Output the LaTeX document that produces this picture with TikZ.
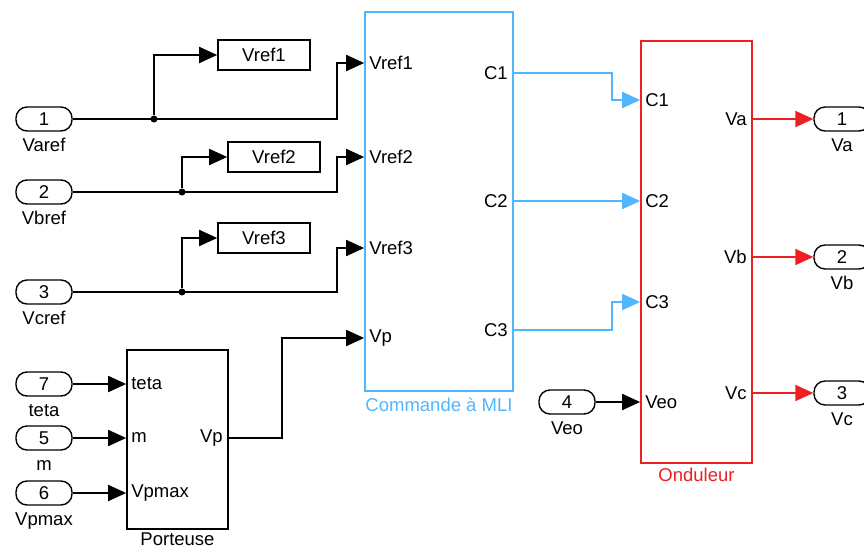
\documentclass[tikz,border=0pt]{standalone}
\usepackage{fontspec}
\setmainfont{Liberation Sans}
\usetikzlibrary{positioning,arrows.meta}
\definecolor{mliblue}{RGB}{80,182,255}
\definecolor{ondred}{RGB}{238,30,34}

\begin{document}
\begin{tikzpicture}[x=1pt, y=-1pt,
  font=\fontsize{18.5}{21}\selectfont,
  label distance=4pt,
  every label/.style={text height=12.5pt, text depth=3pt},
  port/.style={draw, line width=1.4pt, rounded corners=11pt, minimum width=56pt,
               minimum height=24pt, inner sep=0pt},
  gto/.style={draw, line width=1.6pt, minimum width=92pt, minimum height=30pt, inner sep=0pt},
  blk/.style={draw, line width=1.7pt, inner sep=0pt},
  inl/.style={anchor=west, inner sep=0pt, xshift=5pt},
  outl/.style={anchor=east, inner sep=0pt, xshift=-6pt},
  arr/.style={-{Triangle[length=18pt,width=16pt]}, line width=1.9pt},
  dot/.style={circle, fill, inner sep=0pt, minimum size=7pt}]

\useasboundingbox[fill=white] (0,0) rectangle (864,552);

% inports
\node[port, label=below:Varef] (in1) at (44,119) {1};
\node[port, label=below:Vbref] (in2) at (44,192) {2};
\node[port, label=below:Vcref] (in3) at (44,292) {3};
\node[port, label=below:teta] (in7) at (44,384) {7};
\node[port, label=below:m] (in5) at (44,438) {5};
\node[port, label=below:Vpmax] (in6) at (44,493) {6};
\node[port, label=below:Veo] (in4) at (567,402) {4};

% goto tags
\node[gto] (gto1) at (264,55) {Vref1};
\node[gto] (gto2) at (274,157) {Vref2};
\node[gto] (gto3) at (264,238) {Vref3};

% branch points
\node[dot] (j1) at (154,119) {};
\node[dot] (j2) at (182,192) {};
\node[dot] (j3) at (182,292) {};

% Porteuse block
\node[blk, minimum width=101pt, minimum height=179pt,
      label={[label distance=0pt, inner sep=3pt]below:Porteuse}] (por) at (177.5,439.5) {};
\coordinate (por-i1) at (por.west |- 0,384);
\coordinate (por-i2) at (por.west |- 0,438);
\coordinate (por-i3) at (por.west |- 0,493);
\coordinate (por-o1) at (por.east |- 0,438);
\node[inl] (por-l1) at (por-i1) {teta};
\node[inl] (por-l2) at (por-i2) {m};
\node[inl] (por-l3) at (por-i3) {Vpmax};
\node[outl] (por-l4) at (por-o1) {Vp};

% Commande a MLI block
\node[blk, draw=mliblue, minimum width=148pt, minimum height=379pt,
      label={[mliblue]below:Commande à MLI}] (mli) at (439,201.5) {};
\coordinate (mli-i1) at (mli.west |- 0,63);
\coordinate (mli-i2) at (mli.west |- 0,157);
\coordinate (mli-i3) at (mli.west |- 0,248);
\coordinate (mli-i4) at (mli.west |- 0,338);
\coordinate (mli-o1) at (mli.east |- 0,73);
\coordinate (mli-o2) at (mli.east |- 0,201);
\coordinate (mli-o3) at (mli.east |- 0,330);
\node[inl] (mli-l1) at (mli-i1) {Vref1};
\node[inl] (mli-l2) at (mli-i2) {Vref2};
\node[inl] (mli-l3) at (mli-i3) {Vref3};
\node[inl] (mli-l4) at (mli-i4) {Vp};
\node[outl] (mli-l5) at (mli-o1) {C1};
\node[outl] (mli-l6) at (mli-o2) {C2};
\node[outl] (mli-l7) at (mli-o3) {C3};

% Onduleur block
\node[blk, draw=ondred, minimum width=111pt, minimum height=422pt,
      label={[ondred, label distance=2pt]below:Onduleur}] (ond) at (696.5,252) {};
\coordinate (ond-i1) at (ond.west |- 0,100);
\coordinate (ond-i2) at (ond.west |- 0,201);
\coordinate (ond-i3) at (ond.west |- 0,302);
\coordinate (ond-i4) at (ond.west |- 0,402);
\coordinate (ond-o1) at (ond.east |- 0,119);
\coordinate (ond-o2) at (ond.east |- 0,257);
\coordinate (ond-o3) at (ond.east |- 0,393);
\node[inl] (ond-l1) at (ond-i1) {C1};
\node[inl] (ond-l2) at (ond-i2) {C2};
\node[inl] (ond-l3) at (ond-i3) {C3};
\node[inl] (ond-l4) at (ond-i4) {Veo};
\node[outl] (ond-l5) at (ond-o1) {Va};
\node[outl] (ond-l6) at (ond-o2) {Vb};
\node[outl] (ond-l7) at (ond-o3) {Vc};

% outports
\node[port, label=below:Va] (out1) at (842,119) {1};
\node[port, label=below:Vb] (out2) at (842,257) {2};
\node[port, label=below:Vc] (out3) at (842,393) {3};

% edges
\draw[arr] (in1.east) -| ([xshift=-27pt]mli-i1) -- (mli-i1);
\draw[arr] (in2.east) -| ([xshift=-27pt]mli-i2) -- (mli-i2);
\draw[arr] (in3.east) -| ([xshift=-27pt]mli-i3) -- (mli-i3);
\draw[arr] (j1) |- (gto1.west);
\draw[arr] (j2) |- (gto2.west);
\draw[arr] (j3) |- (gto3.west);
\draw[arr] (in7.east) -- (por-i1);
\draw[arr] (in5.east) -- (por-i2);
\draw[arr] (in6.east) -- (por-i3);
\draw[arr] (por-o1) -| ([xshift=-82pt]mli-i4) -- (mli-i4);
\draw[arr, mliblue] (mli-o1) -| ([xshift=-28pt]ond-i1) -- (ond-i1);
\draw[arr, mliblue] (mli-o2) -- (ond-i2);
\draw[arr, mliblue] (mli-o3) -| ([xshift=-28pt]ond-i3) -- (ond-i3);
\draw[arr] (in4.east) -- (ond-i4);
\draw[arr, ondred] (ond-o1) -- (out1.west);
\draw[arr, ondred] (ond-o2) -- (out2.west);
\draw[arr, ondred] (ond-o3) -- (out3.west);
\end{tikzpicture}
\end{document}
